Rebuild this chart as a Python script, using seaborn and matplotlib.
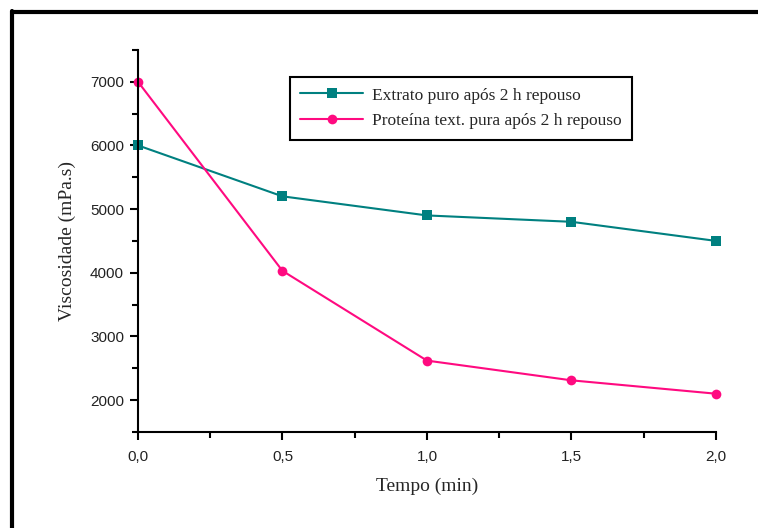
"""Viscosity vs. time chart."""

import seaborn as sns
import matplotlib.pyplot as plt
import pandas as pd
from matplotlib.lines import Line2D
from matplotlib.ticker import MultipleLocator, FuncFormatter

sns.set_theme(style="ticks")

tempo = [0.0, 0.5, 1.0, 1.5, 2.0]
extrato = [6000, 5200, 4900, 4800, 4500]
proteina = [7000, 4030, 2620, 2310, 2100]
series_names = ['Extrato puro após 2 h repouso',
                'Proteína text. pura após 2 h repouso']

df = pd.DataFrame({
    'Tempo': tempo * 2,
    'Viscosidade': extrato + proteina,
    'Série': [series_names[0]] * len(tempo) + [series_names[1]] * len(tempo),
})

colors = ['#008080', '#ff0a80']

fig = plt.figure(figsize=(7.58, 5.28), dpi=100)
ax = fig.add_axes([0.182, 0.182, 0.7625, 0.7235])

sns.lineplot(
    data=df, x='Tempo', y='Viscosidade', hue='Série', style='Série',
    palette=colors, markers=['s', 'o'], dashes=False, markersize=7,
    markeredgewidth=0, linewidth=1.5, ax=ax,
)
for ln in ax.lines:
    ln.set_clip_on(False)

ax.set_xlim(0, 2.0)
ax.set_ylim(1500, 7500)
ax.xaxis.set_major_locator(MultipleLocator(0.5))
ax.xaxis.set_minor_locator(MultipleLocator(0.25))
ax.yaxis.set_major_locator(MultipleLocator(1000))
ax.yaxis.set_minor_locator(MultipleLocator(500))
ax.xaxis.set_major_formatter(FuncFormatter(lambda v, p: f'{v:.1f}'.replace('.', ',')))
ax.yaxis.set_major_formatter(
    FuncFormatter(lambda v, p: '' if v < 2000 or v > 7000 else f'{v:.0f}'))

for sp in ['top', 'right']:
    ax.spines[sp].set_visible(False)
for sp in ['left', 'bottom']:
    ax.spines[sp].set_linewidth(1.5)
    ax.spines[sp].set_color('black')

ax.tick_params(which='major', direction='out', length=6, width=1.5,
               colors='black', labelsize=11)
ax.tick_params(which='minor', direction='out', length=4, width=1.5, colors='black')
ax.tick_params(axis='x', pad=7)
ax.tick_params(axis='y', pad=4)
for lbl in ax.get_xticklabels() + ax.get_yticklabels():
    lbl.set_family('Liberation Sans')
    lbl.set_color('#222222')

ax.set_xlabel('Tempo (min)', family='Liberation Serif', fontsize=14, labelpad=10)
ax.set_ylabel('Viscosidade (mPa.s)', family='Liberation Serif', fontsize=14, labelpad=10)

leg = ax.legend(
    loc='upper left', bbox_to_anchor=(290 / 758, 1 - 77 / 528),
    bbox_transform=fig.transFigure, frameon=True, fancybox=False,
    prop={'family': 'Liberation Serif', 'size': 12.5}, handlelength=3.6,
    handletextpad=0.5, borderpad=0.6, labelspacing=0.55, borderaxespad=0,
)
leg.get_frame().set_edgecolor('black')
leg.get_frame().set_linewidth(1.5)
leg.get_frame().set_alpha(1)
for h in leg.legend_handles:
    h.set_markersize(7)

# figure frame (left and top edges visible)
fig.add_artist(Line2D([12 / 758, 12 / 758], [0, 1 - 11 / 528],
                      transform=fig.transFigure, color='black', linewidth=3))
fig.add_artist(Line2D([12 / 758, 1], [1 - 12 / 528, 1 - 12 / 528],
                      transform=fig.transFigure, color='black', linewidth=3))

fig.savefig('out.png', dpi=100)
